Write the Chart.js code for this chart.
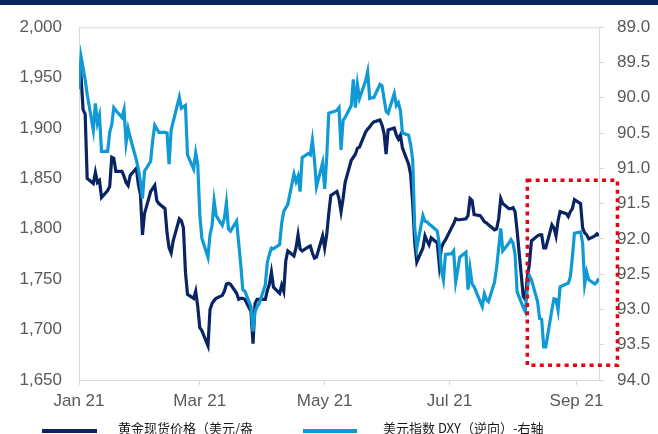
<!DOCTYPE html>
<html>
<head>
<meta charset="utf-8">
<script src="https://cdn.jsdelivr.net/npm/chart.js@4.4.1/dist/chart.umd.min.js"></script>
<style>
  html, body { margin: 0; padding: 0; background: #fff; }
</style>
</head>
<body>
<canvas id="goldChart" width="658" height="434"></canvas>
<script>
// trading days, 2021
var dates = [
  '01-04','01-05','01-06','01-07','01-08','01-11','01-12','01-13','01-14','01-15',
  '01-18','01-19','01-20','01-21','01-22','01-25','01-26','01-27','01-28','01-29',
  '02-01','02-02','02-03','02-04','02-05','02-08','02-09','02-10','02-11','02-12',
  '02-15','02-16','02-17','02-18','02-19','02-22','02-23','02-24','02-25','02-26',
  '03-01','03-02','03-03','03-04','03-05','03-08','03-09','03-10','03-11','03-12',
  '03-15','03-16','03-17','03-18','03-19','03-22','03-23','03-24','03-25','03-26',
  '03-29','03-30','03-31','04-01','04-02','04-05','04-06','04-07','04-08','04-09',
  '04-12','04-13','04-14','04-15','04-16','04-19','04-20','04-21','04-22','04-23',
  '04-26','04-27','04-28','04-29','04-30','05-03','05-04','05-05','05-06','05-07',
  '05-10','05-11','05-12','05-13','05-14','05-17','05-18','05-19','05-20','05-21',
  '05-24','05-25','05-26','05-27','05-28','05-31','06-01','06-02','06-03','06-04',
  '06-07','06-08','06-09','06-10','06-11','06-14','06-15','06-16','06-17','06-18',
  '06-21','06-22','06-23','06-24','06-25','06-28','06-29','06-30','07-01','07-02',
  '07-05','07-06','07-07','07-08','07-09','07-12','07-13','07-14','07-15','07-16',
  '07-19','07-20','07-21','07-22','07-23','07-26','07-27','07-28','07-29','07-30',
  '08-02','08-03','08-04','08-05','08-06','08-09','08-10','08-11','08-12','08-13',
  '08-16','08-17','08-18','08-19','08-20','08-23','08-24','08-25','08-26','08-27',
  '08-30','08-31','09-01','09-02','09-03','09-06','09-07','09-08','09-09','09-10',
  '09-13','09-14','09-15'
];

// spot gold, USD/oz
var goldValues = [
  1944,1951,1918,1914,1850,1845,1856,1846,1848,1831,
  1838,1842,1871,1870,1857,1857,1852,1846,1843,1853,
  1860,1844,1834,1794,1815,1837,1840,1843,1828,1825,
  1820,1796,1781,1776,1788,1810,1808,1801,1757,1735,
  1731,1738,1723,1702,1699,1684,1720,1726,1729,1731,
  1734,1738,1745,1746,1745,1736,1730,1731,1731,1730,
  1718,1686,1726,1730,1730,1730,1739,1745,1757,1742,
  1736,1744,1738,1768,1778,1773,1781,1794,1780,1778,
  1782,1783,1776,1771,1772,1793,1781,1794,1815,1833,
  1837,1830,1817,1830,1846,1868,1871,1874,1880,1881,
  1896,1899,1901,1904,1906,1908,1903,1895,1874,1898,
  1900,1893,1889,1893,1880,1864,1854,1825,1786,1767,
  1781,1793,1788,1784,1791,1786,1764,1781,1786,1789,
  1801,1805,1810,1809,1809,1810,1813,1830,1828,1814,
  1813,1810,1807,1806,1804,1799,1800,1810,1830,1825,
  1820,1820,1821,1817,1798,1733,1730,1752,1765,1788,
  1793,1794,1794,1781,1781,1804,1801,1793,1808,1817,
  1815,1812,1817,1820,1829,1825,1801,1796,1794,1790,
  1793,1795,1793
];

// dollar index, plotted on an inverted right axis
var dxyValues = [
  89.88,89.42,89.58,89.74,89.95,90.46,90.08,90.36,90.25,90.76,
  90.76,90.49,90.38,90.14,90.18,90.28,90.17,90.64,90.44,90.56,
  90.88,91.01,91.19,91.43,91.04,90.90,90.60,90.39,90.44,90.49,
  90.49,90.50,90.94,90.46,90.34,89.99,90.15,90.13,90.11,90.81,
  91.01,90.78,90.94,91.65,91.99,92.26,91.94,91.81,91.46,91.67,
  91.81,91.71,91.49,91.86,91.89,91.75,92.06,92.36,92.72,92.74,
  92.96,93.31,93.03,92.96,92.92,92.65,92.33,92.22,92.13,92.14,
  92.08,91.78,91.61,91.56,91.51,91.08,91.19,91.11,91.33,90.85,
  90.79,90.81,90.60,90.88,91.26,90.92,91.29,90.85,90.22,90.21,
  90.18,90.14,90.74,90.32,90.28,90.11,89.74,90.14,89.81,90.01,
  89.76,89.63,90.01,90.00,90.00,89.81,89.83,90.01,90.19,90.22,
  89.94,90.11,90.07,90.18,90.50,90.53,90.67,90.88,91.85,92.13,
  91.67,91.75,91.76,91.79,91.81,91.89,92.08,92.44,92.58,92.22,
  92.21,92.17,92.61,92.44,92.26,92.19,92.72,92.42,92.64,92.68,
  92.89,92.96,92.78,92.86,92.89,92.61,92.40,92.13,91.85,92.17,
  92.06,92.01,92.06,92.22,92.75,92.97,93.03,92.70,92.52,92.58,
  92.89,93.13,93.14,93.53,93.53,93.00,92.85,92.86,93.01,92.68,
  92.64,92.63,92.54,92.26,91.92,91.90,92.06,92.64,92.47,92.58,
  92.64,92.61,92.56
];

var tickDates = ['01-04', '03-04', '05-04', '07-04', '09-04'];
var tickLabels = ['Jan 21', 'Mar 21', 'May 21', 'Jul 21', 'Sep 21'];
var goldTicks = [1650, 1700, 1750, 1800, 1850, 1900, 1950, 2000];
var dxyTicks = [89.0, 89.5, 90.0, 90.5, 91.0, 91.5, 92.0, 92.5, 93.0, 93.5, 94.0];

// highlighted window, dollar-index units on the right axis
var boxFrom = '08-11', boxTo = '09-24';
var boxTop = 91.17, boxBottom = 93.79;

function dayOf(md) {
  var p = md.split('-');
  return (Date.UTC(2021, +p[0] - 1, +p[1]) - Date.UTC(2021, 0, 4)) / 86400000;
}

function toPoints(values) {
  return values.map(function (v, i) { return { x: dayOf(dates[i]), y: v }; });
}

var NAVY = '#0a2463';
var SKY = '#0f9ad6';
var numFont = { family: '"Liberation Sans", Arial, sans-serif', size: 17 };

var framePlugin = {
  id: 'frame',
  beforeDraw: function (chart) {
    var ctx = chart.ctx;
    ctx.save();
    ctx.fillStyle = '#fff';
    ctx.fillRect(0, 0, chart.width, chart.height);
    ctx.fillStyle = NAVY;
    ctx.fillRect(0, 0, chart.width, 5);
    ctx.restore();
  },
  beforeDatasetsDraw: function (chart) {
    var a = chart.chartArea, ctx = chart.ctx;
    ctx.save();
    ctx.strokeStyle = '#d9d9d9';
    ctx.lineWidth = 1;
    ctx.beginPath();
    ctx.moveTo(a.left, a.top + 0.5);
    ctx.lineTo(a.right, a.top + 0.5);
    ctx.stroke();
    ctx.restore();
  },
  afterDraw: function (chart) {
    var ctx = chart.ctx;
    var x = chart.scales.x, y1 = chart.scales.y1;

    // red dotted box
    var l = x.getPixelForValue(dayOf(boxFrom));
    var r = x.getPixelForValue(dayOf(boxTo));
    var t = y1.getPixelForValue(boxTop);
    var b = y1.getPixelForValue(boxBottom);
    ctx.save();
    ctx.strokeStyle = '#e60012';
    ctx.lineWidth = 3.5;
    ctx.setLineDash([4, 4.3]);
    ctx.strokeRect(l, t, r - l, b - t);
    ctx.restore();

    // legend along the bottom edge
    var items = [
      { x0: 42, x1: 97, tx: 118 },
      { x0: 303, x1: 357, tx: 383 }
    ];
    ctx.save();
    ctx.font = '13px "Noto Sans CJK SC", sans-serif';
    ctx.textBaseline = 'middle';
    ctx.fillStyle = '#1a1a1a';
    chart.data.datasets.forEach(function (ds, i) {
      var it = items[i];
      ctx.strokeStyle = ds.borderColor;
      ctx.lineWidth = 4;
      ctx.beginPath();
      ctx.moveTo(it.x0, 431);
      ctx.lineTo(it.x1, 431);
      ctx.stroke();
      ctx.fillText(ds.label, it.tx, 428);
    });
    ctx.restore();
  }
};

new Chart(document.getElementById('goldChart'), {
  type: 'line',
  data: {
    datasets: [
      {
        label: '黄金现货价格（美元/盎',
        data: toPoints(goldValues),
        yAxisID: 'y',
        borderColor: NAVY,
        borderWidth: 3.2,
        pointRadius: 0,
        tension: 0,
        order: 2
      },
      {
        label: '美元指数 DXY（逆向）-右轴',
        data: toPoints(dxyValues),
        yAxisID: 'y1',
        borderColor: SKY,
        borderWidth: 3.2,
        pointRadius: 0,
        tension: 0,
        order: 1
      }
    ]
  },
  options: {
    responsive: false,
    animation: false,
    devicePixelRatio: 1,
    layout: { padding: { top: 20, left: 0, right: 0, bottom: 0 } },
    plugins: { legend: { display: false }, tooltip: { enabled: false } },
    scales: {
      x: {
        type: 'linear',
        min: 0,
        max: dayOf(dates[dates.length - 1]),
        afterBuildTicks: function (s) {
          s.ticks = tickDates.map(function (d) { return { value: dayOf(d) }; });
        },
        afterFit: function (s) { s.height = 54; },
        grid: { drawOnChartArea: false, drawTicks: true, tickLength: 5, color: '#d9d9d9' },
        border: { color: '#d9d9d9' },
        ticks: {
          autoSkip: false,
          maxRotation: 0,
          padding: 6,
          color: '#595959',
          font: numFont,
          callback: function (v) {
            var i = tickDates.map(dayOf).indexOf(v);
            return i >= 0 ? tickLabels[i] : '';
          }
        }
      },
      y: {
        position: 'left',
        min: 1650,
        max: 2000,
        afterBuildTicks: function (s) {
          s.ticks = goldTicks.map(function (v) { return { value: v }; });
        },
        afterFit: function (s) { s.width = 79; },
        grid: { drawOnChartArea: false, drawTicks: false },
        border: { color: '#d9d9d9' },
        ticks: {
          padding: 17,
          color: '#595959',
          font: numFont,
          callback: function (v) { return v.toLocaleString('en-US'); }
        }
      },
      y1: {
        position: 'right',
        reverse: true,
        min: 89,
        max: 94,
        afterBuildTicks: function (s) {
          s.ticks = dxyTicks.map(function (v) { return { value: v }; });
        },
        afterFit: function (s) { s.width = 59; },
        grid: { drawOnChartArea: false, drawTicks: true, tickLength: 5, color: '#d9d9d9' },
        border: { color: '#d9d9d9' },
        ticks: {
          padding: 13,
          color: '#595959',
          font: numFont,
          callback: function (v) { return v.toFixed(1); }
        }
      }
    }
  },
  plugins: [framePlugin]
});
</script>
</body>
</html>
